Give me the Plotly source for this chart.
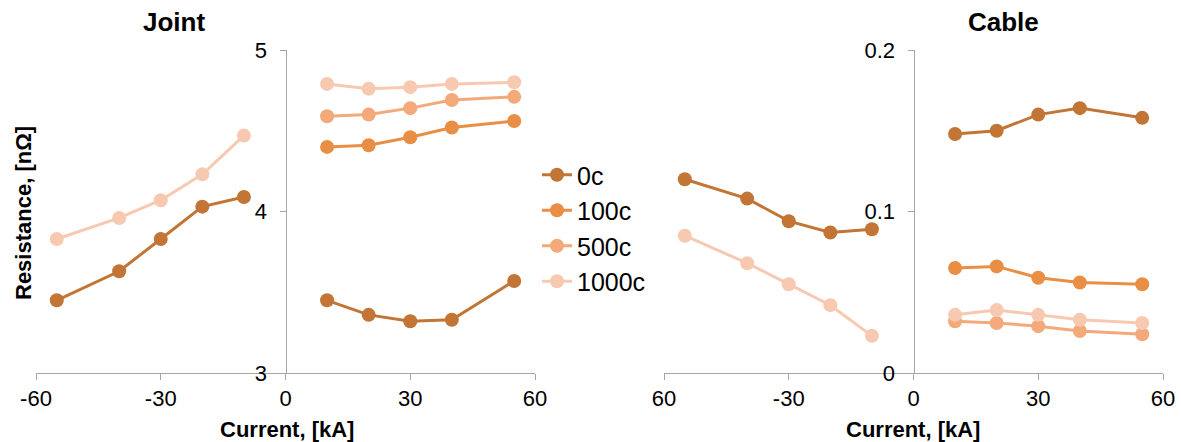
import plotly.graph_objects as go

# ---------------- data ----------------
series_names = ["0c", "100c", "500c", "1000c"]
series_colors = ["#C27534", "#E98F45", "#F4A97A", "#F8C9B1"]

x_neg = [-55, -40, -30, -20, -10]
x_pos = [10, 20, 30, 40, 55]

# Joint, resistance [nOhm]
joint_neg = {
    "0c": [3.45, 3.63, 3.83, 4.03, 4.09],
    "1000c": [3.83, 3.96, 4.07, 4.23, 4.47],
}
joint_pos = {
    "0c": [3.45, 3.36, 3.32, 3.33, 3.57],
    "100c": [4.40, 4.41, 4.46, 4.52, 4.56],
    "500c": [4.59, 4.60, 4.64, 4.69, 4.71],
    "1000c": [4.79, 4.76, 4.77, 4.79, 4.80],
}

# Cable, resistance [nOhm]
cable_neg = {
    "0c": [0.120, 0.108, 0.094, 0.087, 0.089],
    "1000c": [0.085, 0.068, 0.055, 0.042, 0.023],
}
cable_pos = {
    "0c": [0.148, 0.150, 0.160, 0.164, 0.158],
    "100c": [0.065, 0.066, 0.059, 0.056, 0.055],
    "500c": [0.032, 0.031, 0.029, 0.026, 0.024],
    "1000c": [0.036, 0.039, 0.036, 0.033, 0.031],
}

x_tickvals = [-60, -30, 0, 30, 60]
joint_xticktext = ["-60", "-30", "0", "30", "60"]
cable_xticktext = ["60", "-30", "0", "30", "60"]
joint_yticks = [3, 4, 5]
cable_yticks = [0, 0.1, 0.2]
cable_yticktext = ["0", "0.1", "0.2"]

# ---------------- figure ----------------
W, H = 1181, 442
FONT = "Liberation Sans, Arial, sans-serif"
AXCOL = "#A6A6A6"

fig = go.Figure()

def combined(neg, pos, name):
    xs, ys = [], []
    if name in neg:
        xs += x_neg
        ys += neg[name]
    if name in neg and name in pos:
        xs.append(None)
        ys.append(None)
    if name in pos:
        xs += x_pos
        ys += pos[name]
    return xs, ys

for i, name in enumerate(series_names):
    col = series_colors[i]
    for panel, (neg, pos, xa, ya) in enumerate([
        (joint_neg, joint_pos, "x", "y"),
        (cable_neg, cable_pos, "x2", "y2"),
    ]):
        xs, ys = combined(neg, pos, name)
        fig.add_trace(go.Scatter(
            x=xs, y=ys, xaxis=xa, yaxis=ya,
            mode="lines+markers",
            name=name, legendgroup=name,
            showlegend=(panel == 0),
            line=dict(color=col, width=3),
            marker=dict(color=col, size=14, symbol="circle"),
            cliponaxis=False,
            connectgaps=False,
        ))

dl = [36 / W, 535 / W]
dr = [664 / W, 1163 / W]
dy = [1 - 373 / H, 1 - 50 / H]

tickfont = dict(family=FONT, size=22, color="black")

common_x = dict(
    range=[-60, 60], tickvals=x_tickvals,
    showline=True, linecolor=AXCOL, linewidth=1,
    ticks="outside", ticklen=6, tickcolor=AXCOL,
    showgrid=False, zeroline=False, tickfont=tickfont,
    fixedrange=True, automargin=False,
)
common_y = dict(
    showline=True, linecolor=AXCOL, linewidth=1,
    ticks="outside", ticklen=6, tickcolor=AXCOL,
    showgrid=False, zeroline=False, tickfont=tickfont,
    ticklabelstandoff=8, automargin=False,
    anchor="free", domain=dy, fixedrange=True,
)

fig.update_layout(
    width=W, height=H,
    margin=dict(l=0, r=0, t=0, b=0, pad=0, autoexpand=False),
    paper_bgcolor="white", plot_bgcolor="rgba(0,0,0,0)",
    font=dict(family=FONT, color="black"),
    xaxis=dict(domain=dl, anchor="y", ticktext=joint_xticktext, **common_x),
    yaxis=dict(range=[3, 5], tickvals=joint_yticks,
               position=(dl[0] + dl[1]) / 2, **common_y),
    xaxis2=dict(domain=dr, anchor="y2", ticktext=cable_xticktext, **common_x),
    yaxis2=dict(range=[0, 0.2], tickvals=cable_yticks, ticktext=cable_yticktext,
                position=(dr[0] + dr[1]) / 2, **common_y),
    legend=dict(
        x=537 / W, xanchor="left",
        y=1 - 152 / H, yanchor="top",
        font=dict(family=FONT, size=25, color="black"),
        bgcolor="rgba(0,0,0,0)",
        itemwidth=30,
        traceorder="normal",
    ),
    showlegend=True,
)

titlefont = dict(family=FONT, size=26, color="black")
axtitlefont = dict(family=FONT, size=22, color="black")
fig.add_annotation(text="<b>Joint</b>", x=174 / W, y=1 - 22 / H, xref="paper", yref="paper",
                   showarrow=False, font=titlefont, xanchor="center", yanchor="middle")
fig.add_annotation(text="<b>Cable</b>", x=1003 / W, y=1 - 22 / H, xref="paper", yref="paper",
                   showarrow=False, font=titlefont, xanchor="center", yanchor="middle")
fig.add_annotation(text="<b>Current, [kA]</b>", x=287 / W, y=1 - 429 / H, xref="paper", yref="paper",
                   showarrow=False, font=axtitlefont, xanchor="center", yanchor="middle")
fig.add_annotation(text="<b>Current, [kA]</b>", x=913 / W, y=1 - 429 / H, xref="paper", yref="paper",
                   showarrow=False, font=axtitlefont, xanchor="center", yanchor="middle")
fig.add_annotation(text="<b>Resistance, [nΩ]</b>", x=23 / W, y=1 - 213 / H, xref="paper", yref="paper",
                   showarrow=False, font=axtitlefont, textangle=-90,
                   xanchor="center", yanchor="middle")

fig.write_html("out.html", config={"displayModeBar": False},
               post_script="document.body.style.margin='0';document.body.style.overflow='hidden';")
